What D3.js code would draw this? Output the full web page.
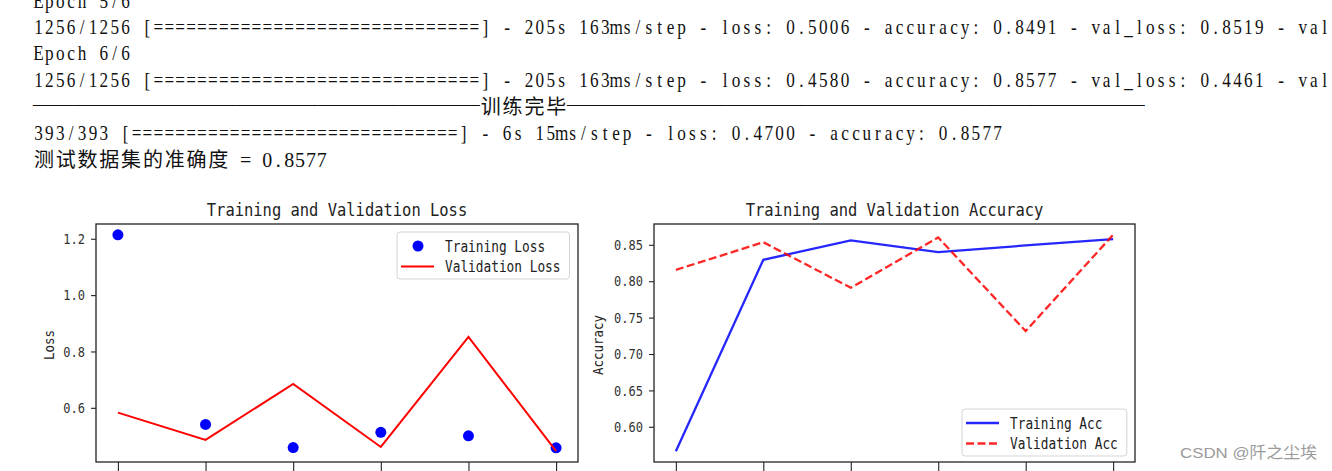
<!DOCTYPE html>
<html><head><meta charset="utf-8">
<script src="https://cdn.jsdelivr.net/npm/d3@7"></script>
<style>html,body{margin:0;padding:0;background:#fff;overflow:hidden} svg{display:block}</style>
</head><body>
<svg id="c" width="1332" height="471"></svg>
<script>
// ---------- data ----------
const epochs = [0, 1, 2, 3, 4, 5];
const trainLoss = [1.214, 0.541, 0.459, 0.513, 0.5006, 0.4580];
const valLoss = [0.583, 0.486, 0.685, 0.461, 0.8519, 0.4461];
const trainAcc = [0.5665, 0.8294, 0.856, 0.840, 0.8491, 0.8577];
const valAcc = [0.8155, 0.8535, 0.791, 0.860, 0.7315, 0.8637];
const lossTicks = [0.6, 0.8, 1.0, 1.2];
const accTicks = [0.60, 0.65, 0.70, 0.75, 0.80, 0.85];
const lossLegend = ["Training Loss", "Validation Loss"];
const accLegend = ["Training Acc", "Validation Acc"];
const consoleLines = [
  "Epoch 5/6",
  "1256/1256 [==============================] - 205s 163ms/step - loss: 0.5006 - accuracy: 0.8491 - val_loss: 0.8519 - val",
  "Epoch 6/6",
  "1256/1256 [==============================] - 205s 163ms/step - loss: 0.4580 - accuracy: 0.8577 - val_loss: 0.4461 - val",
  null,
  "393/393 [==============================] - 6s 15ms/step - loss: 0.4700 - accuracy: 0.8577",
  "测试数据集的准确度 = 0.8577"
];
const dashLabel = "训练完毕";
const watermark = "CSDN @阡之尘埃";

// ---------- console text ----------
const svg = d3.select("#c");
const CW = 10.9, X0 = 33, SX = 0.86;
const isWide = ch => /[\u2E80-\u9FFF\uFF00-\uFFEF]/.test(ch);
function charCenters(str, startCell) {
  let cell = startCell || 0; const xs = [];
  for (const ch of str) { const w = isWide(ch) ? 2 : 1; xs.push(X0 + (cell + w / 2) * CW); cell += w; }
  return xs;
}
const consoleFont = "'Liberation Serif','Noto Sans CJK SC',serif";
consoleLines.forEach((ln, i) => {
  if (ln === null) return;
  const wide = [...ln].some(isWide);
  const k = wide ? 1 : SX;
  svg.append("text")
    .attr("transform", `scale(${k},1)`)
    .attr("x", charCenters(ln).map(v => (v / k).toFixed(2)).join(" "))
    .attr("y", 7.5 + 26.5 * i)
    .attr("text-anchor", "middle")
    .style("font-family", consoleFont).style("font-size", "20px").attr("fill", "#111")
    .text(ln);
});
// dash separator line
const dashY = 7.5 + 26.5 * 4;
svg.append("text").attr("x", X0).attr("y", dashY - 3)
  .attr("textLength", 41 * CW).attr("lengthAdjust", "spacingAndGlyphs")
  .style("font-family", "'Liberation Serif'").style("font-size", "20px").attr("fill", "#111")
  .text("—".repeat(22));
svg.append("text")
  .attr("x", charCenters(dashLabel, 41).map(v => v.toFixed(2)).join(" "))
  .attr("y", dashY).attr("text-anchor", "middle")
  .style("font-family", consoleFont).style("font-size", "20px").attr("fill", "#111")
  .text(dashLabel);
svg.append("text").attr("x", X0 + 49 * CW).attr("y", dashY - 3)
  .attr("textLength", 53 * CW).attr("lengthAdjust", "spacingAndGlyphs")
  .style("font-family", "'Liberation Serif'").style("font-size", "20px").attr("fill", "#111")
  .text("—".repeat(29));

// ---------- charts ----------
const chartFont = "'DejaVu Sans Mono',monospace";
function drawChart(cfg) {
  const g = svg.append("g");
  const x = d3.scaleLinear()
    .domain([d3.min(epochs) - 0.05 * (d3.max(epochs) - d3.min(epochs)), d3.max(epochs) + 0.05 * (d3.max(epochs) - d3.min(epochs))])
    .range([cfg.left, cfg.right]);
  const all = cfg.series.flatMap(s => s.values);
  const lo = d3.min(all), hi = d3.max(all), r = hi - lo;
  const y = d3.scaleLinear().domain([lo - 0.05 * r, hi + 0.05 * r]).range([cfg.bottom, cfg.top]);

  // y axis
  const ya = g.append("g").attr("transform", `translate(${cfg.left},0)`)
    .call(d3.axisLeft(y).tickValues(cfg.ticks).tickFormat(d3.format(cfg.fmt)).tickSize(5).tickPadding(6));
  ya.select(".domain").remove();
  ya.selectAll(".tick line").attr("stroke", "#222").attr("stroke-width", 1.1);
  ya.selectAll(".tick text").attr("fill", "#333")
    .style("font-family", chartFont).style("font-size", "14.5px")
    .attr("textLength", function () { return this.textContent.length * 7.25; })
    .attr("lengthAdjust", "spacingAndGlyphs");
  // x axis (labels fall below the visible area)
  const xa = g.append("g").attr("transform", `translate(0,${cfg.bottom})`)
    .call(d3.axisBottom(x).tickValues(epochs).tickFormat("").tickSize(9));
  xa.select(".domain").remove();
  xa.selectAll(".tick line").attr("stroke", "#222").attr("stroke-width", 1.1);

  // series
  cfg.series.forEach(s => {
    if (s.type === "dots") {
      g.append("g").selectAll("circle").data(s.values).join("circle")
        .attr("cx", (d, i) => x(epochs[i])).attr("cy", d => y(d)).attr("r", 5.5).attr("fill", s.color);
    } else {
      g.append("path").datum(s.values)
        .attr("d", d3.line().x((d, i) => x(epochs[i])).y(d => y(d)))
        .attr("fill", "none").attr("stroke", s.color).attr("stroke-width", s.width || 2)
        .attr("stroke-opacity", s.opacity || 1)
        .attr("stroke-dasharray", s.dash || null);
    }
  });

  // spines
  g.append("rect").attr("x", cfg.left).attr("y", cfg.top)
    .attr("width", cfg.right - cfg.left).attr("height", cfg.bottom - cfg.top)
    .attr("fill", "none").attr("stroke", "#222").attr("stroke-width", 1.3);

  // title
  g.append("text").attr("x", (cfg.left + cfg.right) / 2).attr("y", 216)
    .attr("text-anchor", "middle").attr("fill", "#222")
    .style("font-family", chartFont).style("font-size", "18.5px")
    .attr("textLength", cfg.title.length * 9.3).attr("lengthAdjust", "spacingAndGlyphs")
    .text(cfg.title);
  // y label
  g.append("text").attr("transform", `translate(${cfg.ylabelX},345) rotate(-90)`)
    .attr("text-anchor", "middle").attr("fill", "#222")
    .style("font-family", chartFont).style("font-size", "14.5px")
    .attr("textLength", cfg.ylabel.length * 7.5).attr("lengthAdjust", "spacingAndGlyphs")
    .text(cfg.ylabel);

  // legend
  const L = cfg.legend;
  const maxLen = d3.max(L.labels, t => t.length) * 7.7;
  const boxW = 48 + maxLen + 9, boxH = 47;
  const lg = g.append("g").attr("transform", `translate(${L.x},${L.y})`);
  lg.append("rect").attr("width", boxW).attr("height", boxH).attr("rx", 3)
    .attr("fill", "#fff").attr("fill-opacity", 0.8).attr("stroke", "#d4d4d4").attr("stroke-width", 1);
  L.labels.forEach((lab, i) => {
    const s = cfg.series[i];
    const cy = 14 + 20.5 * i;
    if (s.type === "dots") {
      lg.append("circle").attr("cx", 21).attr("cy", cy).attr("r", 5.5).attr("fill", s.color);
    } else {
      lg.append("line").attr("x1", 4).attr("x2", 37).attr("y1", cy).attr("y2", cy)
        .attr("stroke", s.color).attr("stroke-width", s.width || 2)
        .attr("stroke-opacity", s.opacity || 1).attr("stroke-dasharray", s.dash || null);
    }
    lg.append("text").attr("x", 48).attr("y", cy + 5.5).attr("fill", "#222")
      .style("font-family", chartFont).style("font-size", "15px")
      .attr("textLength", lab.length * 7.7).attr("lengthAdjust", "spacingAndGlyphs")
      .text(lab);
  });
}

drawChart({
  left: 96, right: 578, top: 224, bottom: 462,
  ticks: lossTicks, fmt: ".1f",
  title: "Training and Validation Loss", ylabel: "Loss", ylabelX: 54,
  series: [
    { values: trainLoss, type: "dots", color: "#0000ff" },
    { values: valLoss, type: "line", color: "#ff0000", width: 2 }
  ],
  legend: { x: 397, y: 232, labels: lossLegend }
});
drawChart({
  left: 654, right: 1135, top: 224, bottom: 462,
  ticks: accTicks, fmt: ".2f",
  title: "Training and Validation Accuracy", ylabel: "Accuracy", ylabelX: 603,
  series: [
    { values: trainAcc, type: "line", color: "#0000ff", width: 2.3, opacity: 0.85 },
    { values: valAcc, type: "line", color: "#ff0000", width: 2.3, opacity: 0.85, dash: "8,3.5" }
  ],
  legend: { x: 962, y: 409, labels: accLegend }
});

// watermark
svg.append("text").attr("x", 1180).attr("y", 458).attr("fill", "#9a9a9a")
  .style("font-family", "'Liberation Sans','Noto Sans CJK SC',sans-serif").style("font-size", "15.5px")
  .attr("textLength", 137).attr("lengthAdjust", "spacingAndGlyphs")
  .text(watermark);
</script>
</body></html>
